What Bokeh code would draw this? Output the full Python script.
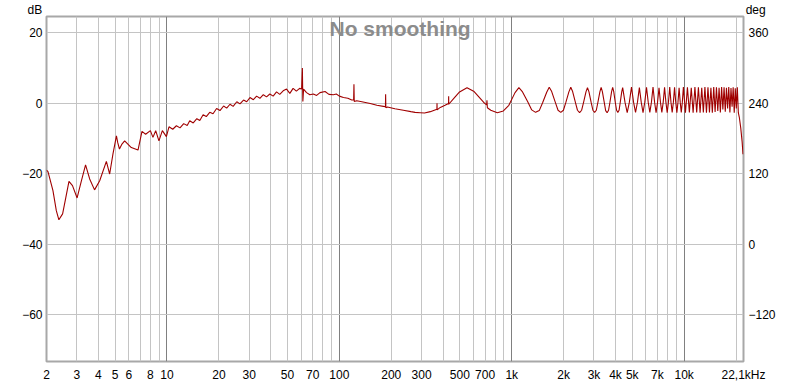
from bokeh.plotting import figure
from bokeh.models import Range1d, LinearAxis, FixedTicker, Label, Title
from bokeh.embed import file_html
from bokeh.resources import INLINE

# ---- data (frequency in Hz, level in dB) ----
low_points = [
    (2.0, -19.0), (2.04, -19.4), (2.18, -24.8), (2.28, -30.5), (2.36, -33.1),
    (2.48, -31.4), (2.59, -26.7), (2.70, -22.2), (2.83, -23.4), (3.01, -26.9),
    (3.19, -22.0), (3.37, -17.5), (3.56, -21.5), (3.80, -24.6), (4.07, -22.0),
    (4.45, -16.5), (4.65, -20.1), (4.86, -14.4), (5.09, -9.3), (5.18, -11.2),
    (5.30, -13.0), (5.48, -11.6), (5.68, -10.7), (6.21, -12.6), (6.79, -13.3),
    (7.16, -8.0), (7.52, -8.8), (8.01, -7.8), (8.29, -9.7), (8.60, -7.8),
    (8.98, -10.7), (9.40, -7.8), (9.92, -9.5), (10.27, -6.7), (10.8, -7.4),
    (11.34, -6.4), (11.9, -7.0), (12.5, -5.8), (13.1, -6.3), (13.55, -5.0),
    (14.2, -5.6), (14.9, -4.4), (15.5, -4.9), (16.2, -3.3), (16.9, -3.8),
    (17.7, -2.6), (18.5, -3.0), (19.4, -1.5), (20.3, -2.1), (21.3, -0.8),
    (22.2, -1.4), (23.2, -0.3), (24.2, -0.9), (25.4, 0.4), (26.5, -0.2),
    (27.8, 0.9), (29.0, 0.4), (30.3, 1.6), (31.7, 1.0), (33.1, 2.0),
    (34.6, 1.4), (36.2, 2.4), (37.8, 1.8), (39.5, 2.6), (41.3, 2.0),
    (43.2, 3.2), (45.1, 2.5), (47.2, 3.5), (49.4, 4.0), (51.6, 2.8),
    (53.9, 4.2), (56.3, 3.4), (58.8, 4.2), (60.4, 4.0), (61.0, 10.0),
    (61.4, 0.5), (62.0, 4.0), (64.5, 3.0), (67.4, 2.4), (70.6, 2.6),
    (73.8, 2.2), (77.2, 3.0), (82.6, 3.3), (87.0, 2.5), (92.3, 2.4),
    (96.0, 2.6), (100.0, 2.0), (105.6, 1.6), (112.0, 1.4), (118.0, 0.9),
    (121.0, 0.9), (121.5, 5.4), (122.0, 0.5), (126.0, 0.7), (135.0, 0.4),
    (151.0, -0.1), (165.0, -0.6), (180.0, -0.9), (185.0, -1.0), (185.5, 2.5),
    (186.0, -1.3), (190.0, -1.1), (210.0, -1.6), (235.0, -2.0), (260.0, -2.4),
    (275.0, -2.6), (294.0, -2.7), (312.0, -2.8), (337.0, -2.4), (368.0, -1.7),
    (368.5, 0.0), (369.0, -1.9), (385.0, -1.2), (410.0, -0.6), (430.0, -0.1),
    (430.5, 2.0), (431.0, -0.3), (460.0, 1.3),
]

comb_points = [
    (495, 3.1), (550, 4.4), (605, 3.3), (688, 0.2), (715, -0.5), (718, 0.8),
    (722, -1.3), (756, -2.0), (825, -2.7), (894, -2.2), (962, -0.6), (1045, 3.0),
    (1100, 4.4), (1155, 3.2), (1238, 0.4), (1306, -1.9), (1375, -2.6), (1444, -2.1),
    (1512, 0.2), (1595, 3.1),
    (1650, 4.5), (1705, 3.3), (1788, 0.3), (1856, -2.0), (1925, -2.6), (1994, -2.0),
    (2062, 0.3), (2145, 3.2),
    (2200, 4.5), (2255, 3.3), (2338, 0.3), (2406, -2.0), (2475, -2.7), (2544, -2.0),
    (2612, 0.3), (2695, 3.2),
    (2750, 4.4), (2805, 3.2), (2888, 0.2), (2956, -2.0), (3025, -2.6), (3094, -2.0),
    (3162, 0.3), (3245, 3.2),
    (3300, 4.5), (3355, 3.3), (3438, 0.3), (3506, -2.1), (3575, -2.7), (3644, -2.0),
    (3712, 0.3), (3795, 3.3),
    (3850, 4.5), (3905, 3.3), (3988, 0.2), (4056, -2.0), (4125, -2.6), (4194, -2.0),
    (4262, 0.3), (4345, 3.2),
    (4400, 4.4), (4538, 0.3), (4675, -2.7), (4812, 0.3),
    (4950, 4.6), (5088, 0.3), (5225, -2.6), (5362, 0.3),
    (5500, 4.4), (5638, 0.3), (5775, -2.7), (5912, 0.3),
    (6050, 4.5), (6188, 0.3), (6325, -2.6), (6462, 0.3),
    (6600, 4.6), (6738, 0.3), (6875, -2.7), (7012, 0.3),
    (7150, 4.4), (7288, 0.3), (7425, -2.6), (7562, 0.3),
    (7700, 4.5), (7838, 0.3), (7975, -2.7), (8112, 0.3),
    (8250, 4.6), (8388, 0.3), (8525, -2.6), (8662, 0.3),
    (8800, 4.5), (8938, 0.3), (9075, -2.7), (9212, 0.3),
    (9350, 4.4), (9488, 0.3), (9625, -2.6), (9762, 0.3),
    (9900, 4.6), (10175, -2.7), (10450, 4.5), (10725, -2.6), (11000, 4.4),
    (11275, -2.7), (11550, 4.6), (11825, -2.6), (12100, 4.5), (12375, -2.7),
    (12650, 4.4), (12925, -2.6), (13200, 4.6), (13475, -2.7), (13750, 4.5),
    (14025, -2.6), (14300, 4.4), (14575, -2.7), (14850, 4.6), (15125, -2.5),
    (15400, 4.5), (15675, -2.2), (15950, 4.4), (16225, -2.6), (16500, 4.6),
    (16775, -1.8), (17050, 4.5), (17325, -2.4), (17600, 4.4), (17875, -1.5),
    (18150, 4.6), (18425, -2.6), (18700, 4.3), (18975, -1.0), (19250, 4.5),
    (19525, -2.7), (19800, 4.2), (20075, -1.5), (20350, 4.5), (20625, -2.7),
    (20900, -4.0), (21300, -7.0), (21700, -11.0), (21950, -14.5),
]

x_tick_values = [2, 3, 4, 5, 6, 8, 10, 20, 30, 50, 70, 100, 200, 300, 500, 700,
                 1000, 2000, 3000, 4000, 5000, 7000, 10000, 22100]
x_tick_labels = ["2", "3", "4", "5", "6", "8", "10", "20", "30", "50", "70", "100",
                 "200", "300", "500", "700", "1k", "2k", "3k", "4k", "5k", "7k",
                 "10k", "22,1kHz"]
x_decade_grid = [10, 100, 1000, 10000]
x_minor_grid = [2, 3, 4, 5, 6, 7, 8, 9, 20, 30, 40, 50, 60, 70, 80, 90,
                200, 300, 400, 500, 600, 700, 800, 900,
                2000, 3000, 4000, 5000, 6000, 7000, 8000, 9000, 20000]
db_ticks = [-60, -40, -20, 0, 20]
deg_ticks = [-120, 0, 120, 240, 360]
db_min, db_max = -73.3, 24.6
left_unit, right_unit = "dB", "deg"

freq = [f for f, _ in low_points] + [f for f, _ in comb_points]
level = [d for _, d in low_points] + [d for _, d in comb_points]

FONT = "Liberation Sans"

p = figure(width=800, height=384, x_axis_type="log",
           x_range=Range1d(2, 22100), y_range=Range1d(db_min, db_max),
           output_backend="svg", toolbar_location=None,
           min_border_left=46, min_border_right=57, min_border_top=14,
           min_border_bottom=21)
p.background_fill_color = "white"
p.border_fill_color = "white"
p.outline_line_color = "#a8a8a8"
p.outline_line_width = 2

# unit captions above both value axes (one header line, spaced with no-break spaces)
p.add_layout(Title(text=left_unit + "\u00a0" * 211 + right_unit, align="left",
                   offset=-19, standoff=0, text_font=FONT, text_font_size="12px",
                   text_font_style="normal", text_color="#000000"), "above")

# degrees axis on the right: deg = 240 + 6*dB
p.extra_y_ranges = {"deg": Range1d(240 + 6 * db_min, 240 + 6 * db_max)}
right_axis = LinearAxis(y_range_name="deg")
p.add_layout(right_axis, "right")

for ax in [p.xaxis[0], p.yaxis[0], right_axis]:
    ax.axis_line_color = None
    ax.major_tick_line_color = None
    ax.minor_tick_line_color = None
    ax.major_tick_out = 0
    ax.minor_tick_out = 0
    ax.major_label_text_font = FONT
    ax.major_label_text_font_size = "12px"
    ax.major_label_text_color = "#000000"

p.xaxis[0].ticker = FixedTicker(ticks=x_tick_values)
p.xaxis[0].major_label_overrides = {v: t for v, t in zip(x_tick_values, x_tick_labels)}
p.xaxis[0].major_label_standoff = 6
p.yaxis[0].ticker = FixedTicker(ticks=db_ticks)
p.yaxis[0].major_label_standoff = 4
right_axis.ticker = FixedTicker(ticks=deg_ticks)
right_axis.major_label_standoff = 5

p.xgrid.ticker = FixedTicker(ticks=x_decade_grid, minor_ticks=x_minor_grid)
p.xgrid.grid_line_color = "#808080"
p.xgrid.minor_grid_line_color = "#c4c4c4"
p.ygrid.ticker = FixedTicker(ticks=db_ticks)
p.ygrid.grid_line_color = "#c4c4c4"

p.line(freq, level, line_color="#a00000", line_width=1.1)

p.add_layout(Label(x=225, y=21.2, text="No smoothing", text_align="center",
                   text_baseline="middle", text_font=FONT, text_font_size="21px",
                   text_font_style="bold", text_color="#8c8c8c"))

open("out.html", "w").write(file_html(p, INLINE))
